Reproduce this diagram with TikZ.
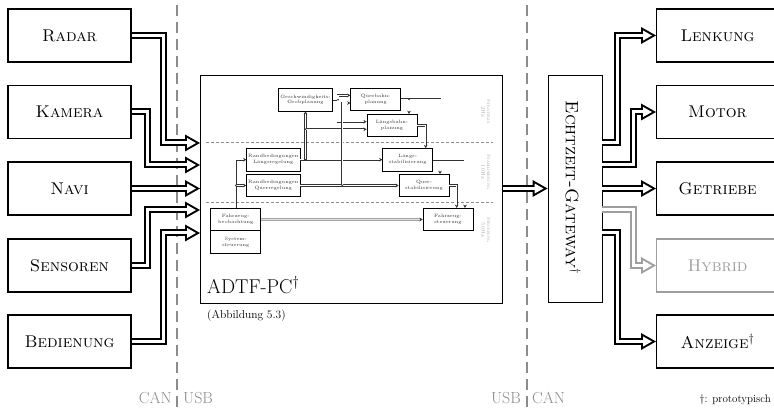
\documentclass[tikz,border=0pt]{standalone}
\usetikzlibrary{arrows.meta,calc}
\definecolor{dashgray}{gray}{0.55}
\definecolor{lightgr}{gray}{0.62}
\begin{document}
\begin{tikzpicture}[x=1pt,y=-1pt,
  outbox/.style={draw, line width=1.1pt, minimum width=123pt, minimum height=53pt, inner sep=0pt, font=\fontsize{17}{20}\selectfont},
  bigarrow/.style={line width=3pt, draw=white, -{Triangle[length=8.9pt,width=10.1pt,line width=0pt,color=white]}, shorten >=4.07pt,
    preaction={draw=#1, line width=7pt, -{Triangle[length=15pt,width=17pt,line width=0pt,color=#1]}, shorten >=0pt}},
  bigarrow/.default=black,
  ibox/.style={draw=black, line width=0.7pt, minimum width=50pt, minimum height=22.5pt, inner sep=0pt, align=center, font=\fontsize{4.7}{5.7}\selectfont, text=black!80},
  conn/.style={draw=black!80, double=white, double distance=1.2pt, line width=0.55pt, -{Stealth[length=3.2pt,width=3.6pt]}},
  connlight/.style={draw=gray!70, double=gray!25, double distance=1.4pt, line width=0.55pt, -{Stealth[length=3.2pt,width=3.6pt,color=black!80]}},
  dot/.style={fill=black!80},
  layerlab/.style={rotate=-90, align=center, text=gray!70, font=\fontsize{4.8}{5.6}\selectfont},
  sep/.style={dashgray, line width=1.6pt, dash pattern=on 11pt off 6pt},
  isep/.style={dashgray, line width=0.7pt, dash pattern=on 3pt off 2pt},
  botlab/.style={text=dashgray, font=\fontsize{16}{18}\selectfont, inner sep=0pt}
]
\useasboundingbox (0,0) rectangle (774,411);
\fill[white] (0,0) rectangle (774,411);
\clip (0,0) rectangle (774,411);

% separators
\draw[sep] (177,5) -- (177,411);
\draw[sep] (527,5) -- (527,411);

% left boxes
\node[outbox] (radar) at (69.5,35.5) {\textsc{Radar}};
\node[outbox] (kamera) at (69.5,112) {\textsc{Kamera}};
\node[outbox] (navi) at (69.5,188.5) {\textsc{Navi}};
\node[outbox] (sensoren) at (69.5,265.5) {\textsc{Sensoren}};
\node[outbox] (bedienung) at (69.5,341.5) {\textsc{Bedienung}};

% right boxes
\node[outbox, minimum width=122pt, anchor=west] (lenkung) at (656,35.5) {\textsc{Lenkung}};
\node[outbox, minimum width=122pt, anchor=west] (motor) at (656,112) {\textsc{Motor}};
\node[outbox, minimum width=122pt, anchor=west] (getriebe) at (656,188.5) {\textsc{Getriebe}};
\node[outbox, minimum width=122pt, anchor=west, draw=lightgr, text=lightgr] (hybrid) at (656,265.5) {\textsc{Hybrid}};
\node[outbox, minimum width=122pt, anchor=west] (anzeige) at (656,341.5) {\textsc{Anzeige}$^\dagger$};

% ADTF box
\node[draw, line width=0.9pt, minimum width=302.5pt, minimum height=227.5pt, inner sep=0pt] (adtf) at (351.25,189.25) {};
\node[anchor=base west, inner sep=0pt, font=\fontsize{20}{24}\selectfont] (adtflab) at (207,294) {ADTF-PC$^\dagger$};
\node[anchor=base west, inner sep=0pt, font=\fontsize{11.5}{14}\selectfont] (abb) at (207,319) {(Abbildung 5.3)};

% gateway
\node[draw, line width=0.9pt, minimum width=54pt, minimum height=227pt, inner sep=0pt] (gw) at (575,188.5) {};
\node[rotate=-90, inner sep=0pt, font=\fontsize{18}{20}\selectfont] (gwlab) at (573,187.5) {\textsc{Echtzeit-Gateway}$^\dagger$};

% inner separators
\draw[isep] (206,142.7) -- (493,142.7);
\draw[isep] (206,202.3) -- (493,202.3);

% layer labels
\node[layerlab] (l1) at (486,112) {\textsc{Strategie}\\2Hz};
\node[layerlab] (l2) at (486,172) {\textsc{Stabilisierung}\\10Hz};
\node[layerlab] (l3) at (486,230) {\textsc{Steuerung}\\50Hz};

% inner boxes
\node[ibox, minimum width=54.4pt] (gp) at (305.5,99.7) {Geschwindigkeits-\\Grobplanung};
\node[ibox] (qb) at (375.7,99.2) {Querbahn-\\planung};
\node[ibox] (lb) at (392,125.5) {Längsbahn-\\planung};
\node[ibox, minimum width=53.3pt] (rl) at (273.3,159.7) {Randbedingungen\\Längsregelung};
\node[ibox, minimum width=53.3pt] (rq) at (273.3,185.5) {Randbedingungen\\Querregelung};
\node[ibox] (ls) at (407.7,159.7) {Längs-\\stabilisierung};
\node[ibox] (qs) at (424,185.5) {Quer-\\stabilisierung};
\node[ibox] (fb) at (235.7,219.5) {Fahrzeug-\\beobachtung};
\node[ibox] (ss) at (235.7,242) {System-\\steuerung};
\node[ibox] (fs) at (448,219.5) {Fahrzeug-\\steuerung};

% inner connectors
\coordinate (j1) at (fb.north |- rq.west);
\draw[conn] (fb.north) |- (rl.west);
\draw[conn] (j1) -- (rq.west);
\fill[dot] (j1) circle (0.9pt);

\draw[conn] (rl.east) -- (ls.west);
\coordinate (j2) at (rl.east -| gp.south);
\draw[conn] (j2) -- (gp.south);
\fill[dot] (j2) circle (0.9pt);
\coordinate (lbw2) at ($(lb.west)+(0,3.8)$);
\coordinate (j3) at (gp.south |- lbw2);
\draw[conn] (j3) -- (lbw2);
\fill[dot] (j3) circle (0.9pt);

\coordinate (j4) at ($(gp.east)+(5,0)$);
\draw[conn] (gp.east) -- (j4) |- ($(qb.west)+(0,-3.8)$);
\draw[conn] (j4) |- ($(lb.west)+(0,-3.8)$);
\fill[dot] (j4) circle (0.9pt);

\draw[conn] (rq.east) -- (qs.west);
\coordinate (j5) at ($(rq.east)+(42,0)$);
\draw[conn] (j5) |- ($(qb.west)+(0,3.8)$);
\fill[dot] (j5) circle (0.9pt);

\coordinate (lbin) at ($(lb.north)+(17,0)$);
\coordinate (j6) at (qb.east -| lbin);
\coordinate (qsin) at ($(qs.north)+(16,0)$);
\draw[conn] (qb.east) -- (j6) -- (lbin);
\draw[conn] (j6) -| (qsin);
\fill[dot] (j6) circle (0.9pt);

\draw[conn] (lb.east) -| ($(ls.north)+(18,0)$);
\draw[conn] (ls.east) -| ($(fs.north)+(17,0)$);
\draw[conn] (qs.east) -| ($(fs.north)+(8.7,0)$);
\draw[connlight] (fb.east) -- (fs.west);

% big arrows left
\coordinate (a1) at (200,143);
\coordinate (a2) at (200,165);
\coordinate (a3) at (200,188.5);
\coordinate (a4) at (200,210);
\coordinate (a5) at (200,233);
\draw[bigarrow] (radar.east) -- ++(32,0) |- (a1);
\draw[bigarrow] (kamera.east) -- ++(16,0) |- (a2);
\draw[bigarrow] (navi.east) -- (a3);
\draw[bigarrow] (sensoren.east) -- ++(16,0) |- (a4);
\draw[bigarrow] (bedienung.east) -- ++(32,0) |- (a5);

% ADTF to gateway
\draw[bigarrow] (adtf.east |- gw.west) -- (gw.west);

% big arrows right
\coordinate (g1) at (602,143);
\coordinate (g2) at (602,165);
\coordinate (g4) at (602,210);
\coordinate (g5) at (602,233);
\draw[bigarrow] (g1) -- ++(15,0) |- (lenkung.west);
\draw[bigarrow] (g2) -- ++(31,0) |- (motor.west);
\draw[bigarrow] (gw.east) -- (getriebe.west);
\draw[bigarrow=lightgr] (g4) -- ++(31,0) |- (hybrid.west);
\draw[bigarrow] (g5) -- ++(15,0) |- (anzeige.west);

% bottom labels
\node[botlab, anchor=base east] (can1) at (172,404) {CAN};
\node[botlab, anchor=base west] (usb1) at (183,404) {USB};
\node[botlab, anchor=base east] (usb2) at (521,404) {USB};
\node[botlab, anchor=base west] (can2) at (532,404) {CAN};
\node[anchor=base east, inner sep=0pt, font=\fontsize{11}{13}\selectfont] (proto) at (771,403) {\textdagger: prototypisch};
\end{tikzpicture}
\end{document}
